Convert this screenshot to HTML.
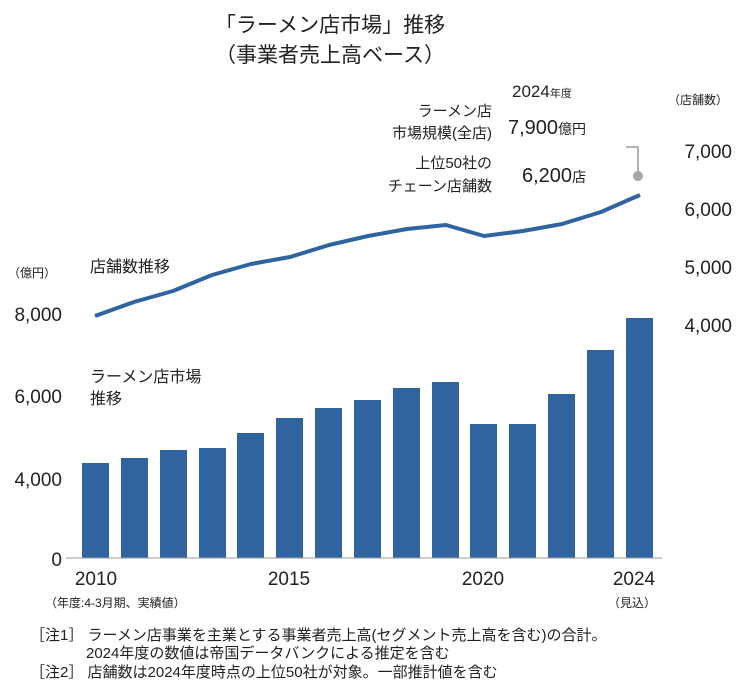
<!DOCTYPE html><html><head><meta charset="utf-8"><style>body{margin:0;background:#fff}svg{display:block}text{font-family:"Liberation Sans","Noto Sans CJK JP",sans-serif;fill:#222}</style></head><body>
<svg width="738" height="685" viewBox="0 0 738 685">
<text x="330" y="32" font-size="21" text-anchor="middle">「ラーメン店市場」推移</text>
<text x="330" y="62" font-size="21" text-anchor="middle">（事業者売上高ベース）</text>
<text x="492" y="116" font-size="15" text-anchor="end">ラーメン店</text>
<text x="492" y="138" font-size="15" text-anchor="end">市場規模(全店)</text>
<text x="492" y="168" font-size="15" text-anchor="end">上位50社の</text>
<text x="492" y="191" font-size="15" text-anchor="end">チェーン店舗数</text>
<text x="512" y="97" font-size="17">2024<tspan font-size="11">年度</tspan></text>
<text x="508" y="134" font-size="20">7,900<tspan font-size="14">億円</tspan></text>
<text x="522" y="182" font-size="20">6,200<tspan font-size="14">店</tspan></text>
<polyline points="626,147 638,147 638,172" fill="none" stroke="#999" stroke-width="1.5"/>
<circle cx="638" cy="176" r="5" fill="#a6a6a6"/>
<text x="668" y="104" font-size="12">（店舗数）</text>
<g font-size="19" text-anchor="end"><text x="732" y="158">7,000</text><text x="732" y="216">6,000</text><text x="732" y="274">5,000</text><text x="732" y="332">4,000</text></g>
<text x="8" y="277" font-size="12">（億円）</text>
<g font-size="19" text-anchor="end"><text x="62" y="321">8,000</text><text x="62" y="403">6,000</text><text x="62" y="486">4,000</text><text x="62" y="566">0</text></g>
<text x="90" y="272" font-size="16">店舗数推移</text>
<text x="90" y="382" font-size="16">ラーメン店市場</text>
<text x="90" y="404" font-size="16">推移</text>
<g fill="#2f64a0">
<rect x="82" y="463" width="27" height="95"/><rect x="121" y="458" width="27" height="100"/><rect x="160" y="450" width="27" height="108"/><rect x="199" y="448" width="27" height="110"/><rect x="237" y="433" width="27" height="125"/><rect x="276" y="418" width="27" height="140"/><rect x="315" y="408" width="27" height="150"/><rect x="354" y="400" width="27" height="158"/><rect x="393" y="388" width="27" height="170"/><rect x="432" y="382" width="27" height="176"/><rect x="470" y="424" width="27" height="134"/><rect x="509" y="424" width="27" height="134"/><rect x="548" y="394" width="27" height="164"/><rect x="587" y="350" width="27" height="208"/><rect x="626" y="318" width="27" height="240"/>
</g>
<line x1="66" y1="558" x2="662" y2="558" stroke="#999" stroke-width="1"/>
<polyline fill="none" stroke="#2f64a0" stroke-width="4" stroke-linejoin="round" points="95,316 134,302 173,291 212,275 251,264 290,257 329,245 368,236 407,229 446,225 484,236 523,231 562,224 601,212 640,195"/>
<g font-size="19" text-anchor="middle"><text x="96" y="585">2010</text><text x="289" y="585">2015</text><text x="483" y="585">2020</text><text x="634" y="585">2024</text></g>
<text x="45" y="607" font-size="12">（年度:4-3月期、実績値）</text>
<text x="608" y="607" font-size="12">（見込）</text>
<g font-size="15"><text x="30" y="640">［注1］ ラーメン店事業を主業とする事業者売上高(セグメント売上高を含む)の合計。</text>
<text x="86" y="658">2024年度の数値は帝国データバンクによる推定を含む</text>
<text x="30" y="677">［注2］ 店舗数は2024年度時点の上位50社が対象。一部推計値を含む</text></g>
</svg></body></html>
